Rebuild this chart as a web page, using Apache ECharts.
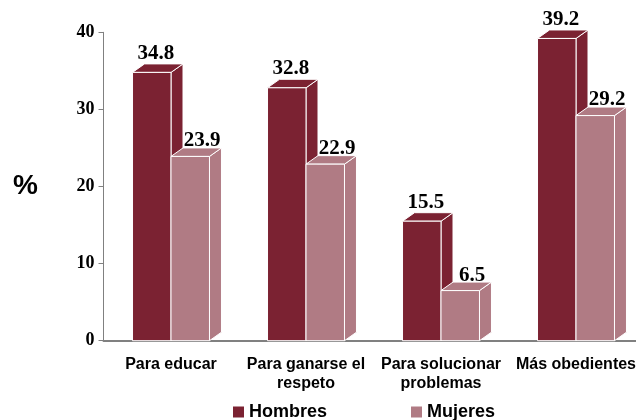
<!DOCTYPE html>
<html>
<head>
<meta charset="utf-8">
<script src="https://cdn.jsdelivr.net/npm/echarts@6/dist/echarts.min.js"></script>
<style>
html,body{margin:0;padding:0;background:#fff;}
#chart{width:636px;height:420px;}
</style>
</head>
<body>
<div id="chart"></div>
<script>
var categories = ['Para educar', 'Para ganarse el\nrespeto', 'Para solucionar\nproblemas', 'Más obedientes'];
var hombres = [34.8, 32.8, 15.5, 39.2];
var mujeres = [23.9, 22.9, 6.5, 29.2];
var seriesNames = ['Hombres', 'Mujeres'];
var yTicks = [0, 10, 20, 30, 40];

var colors = ['#7B2232', '#B07B84'];
var DX = 12, DY = 8.5;
var BAR_FRAC = 0.285;
var LABEL_DX = [4, 12];
var LABEL_DY = [19, 15.5];

function makeRender(side, color) {
  return function (params, api) {
    var cat = api.value(0);
    var val = api.value(1);
    var top = api.coord([cat, val]);
    var base = api.coord([cat, 0]);
    var band = api.size([1, 0])[0];
    var w = band * BAR_FRAC;
    var x0 = side === 0 ? top[0] - w : top[0];
    var yT = top[1], yB = base[1];
    var st = { fill: color, stroke: '#ffffff', lineWidth: 1 };
    return {
      type: 'group',
      children: [
        { type: 'polygon', shape: { points: [[x0 + w, yT], [x0 + w + DX, yT - DY], [x0 + w + DX, yB - DY], [x0 + w, yB]] }, style: st },
        { type: 'polygon', shape: { points: [[x0, yT], [x0 + DX, yT - DY], [x0 + w + DX, yT - DY], [x0 + w, yT]] }, style: st },
        { type: 'rect', shape: { x: x0, y: yT, width: w, height: yB - yT }, style: st },
        { type: 'text', x: x0 + w / 2 + LABEL_DX[side], y: yT - LABEL_DY[side],
          style: { text: val.toFixed(1), fill: '#000', font: 'bold 21px "Liberation Serif", serif', align: 'center', verticalAlign: 'middle' } }
      ]
    };
  };
}

var chart = echarts.init(document.getElementById('chart'));
chart.setOption({
  animation: false,
  backgroundColor: '#ffffff',
  grid: { left: 103.5, width: 540, top: 32.3, bottom: 79.3, containLabel: false, outerBoundsMode: 'none' },
  legend: {
    data: [
      { name: seriesNames[0], icon: 'rect', itemStyle: { color: colors[0] } },
      { name: seriesNames[1], icon: 'rect', itemStyle: { color: colors[1] } }
    ],
    left: 233, top: 403, padding: 0, itemWidth: 11, itemHeight: 11, itemGap: 84,
    textStyle: { fontFamily: '"Liberation Sans", Arial, sans-serif', fontWeight: 'bold', fontSize: 18, color: '#000', lineHeight: 18 }
  },
  xAxis: {
    type: 'category',
    data: categories,
    axisLine: { lineStyle: { color: '#808080', width: 2 } },
    axisTick: { show: false },
    axisLabel: { interval: 0, margin: 14, fontFamily: '"Liberation Sans", Arial, sans-serif', fontWeight: 'bold', fontSize: 16, lineHeight: 19.5, color: '#000' }
  },
  yAxis: {
    type: 'value',
    min: yTicks[0], max: yTicks[yTicks.length - 1], interval: 10,
    splitLine: { show: false },
    axisLine: { show: true, lineStyle: { color: '#808080', width: 1 } },
    axisTick: { show: true, length: 5, lineStyle: { color: '#808080' } },
    axisLabel: { margin: 9, fontFamily: '"Liberation Serif", serif', fontWeight: 'bold', fontSize: 18, color: '#000' }
  },
  graphic: [
    { type: 'text', left: 13, top: 172, style: { text: '%', font: 'bold 28px "Liberation Sans", Arial, sans-serif', fill: '#000' } }
  ],
  series: [
    { name: seriesNames[0], type: 'custom', renderItem: makeRender(0, colors[0]), itemStyle: { color: colors[0] },
      encode: { x: 0, y: 1 }, data: hombres.map(function (v, i) { return [i, v]; }) },
    { name: seriesNames[1], type: 'custom', renderItem: makeRender(1, colors[1]), itemStyle: { color: colors[1] },
      encode: { x: 0, y: 1 }, data: mujeres.map(function (v, i) { return [i, v]; }) }
  ]
});
</script>
</body>
</html>
